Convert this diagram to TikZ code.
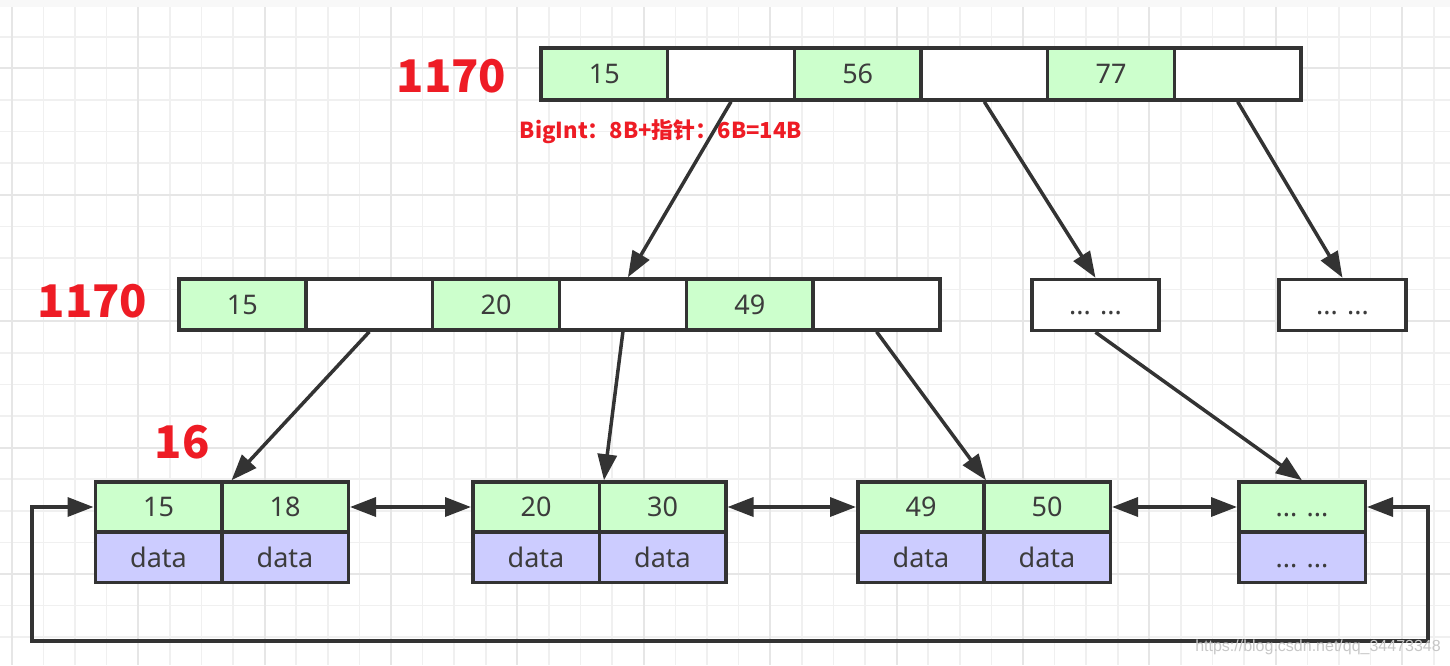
\documentclass[tikz,border=0pt]{standalone}
\usepackage{fontspec}
\setmainfont{Noto Sans}
\newfontfamily\cjk{Noto Sans CJK SC}
\newfontfamily\wmfont{Liberation Sans}
\usetikzlibrary{arrows.meta}
\definecolor{gfill}{HTML}{CCFFCC}
\definecolor{bfill}{HTML}{CCCCFF}
\definecolor{edge}{HTML}{333333}
\definecolor{txt}{HTML}{3C3C3C}
\definecolor{lbl}{HTML}{EE1C25}
\definecolor{gminor}{HTML}{F0F0F0}
\definecolor{gmajor}{HTML}{E6E6E6}
\definecolor{topstrip}{HTML}{F8F8F8}
\begin{document}
\begin{tikzpicture}[x=1pt,y=-1pt,
  cell/.style={draw=edge, line width=3.5pt, text=txt, font=\fontsize{27}{30}\selectfont,
    inner sep=0pt, text height=19.3pt, text depth=0pt, anchor=center},
  gcell/.style={cell, fill=gfill},
  wcell/.style={cell, fill=white},
  bcell/.style={cell, fill=bfill},
  tip/.tip={Triangle[length=26pt,width=19pt]},
  link/.style={draw=edge, line width=3.5pt, -tip},
  dlink/.style={draw=edge, line width=3.5pt, tip-tip},
  redlbl/.style={text=lbl, font=\cjk\bfseries\fontsize{45}{50}\selectfont, inner sep=0pt, anchor=base},
  gridminor/.style={draw=gminor, line width=1.6pt},
  gridmajor/.style={draw=gmajor, line width=2pt},
]
\useasboundingbox (0,0) rectangle (1450,665);
\fill[white] (0,0) rectangle (1450,665);
\fill[topstrip] (0,0) rectangle (1450,7);
% grid
\foreach \i in {0,...,45} \draw[gridminor] ({11.7+31.6*\i},7) -- ({11.7+31.6*\i},665);
\foreach \j in {0,...,19} \draw[gridminor] (0,{36.7+31.6*\j}) -- (1450,{36.7+31.6*\j});
\foreach \i in {0,4,...,44} \draw[gridmajor] ({11.7+31.6*\i},7) -- ({11.7+31.6*\i},665);
\foreach \j in {1,5,...,17} \draw[gridmajor] (0,{36.7+31.6*\j}) -- (1450,{36.7+31.6*\j});

% top row
\begin{scope}[every node/.append style={minimum width=126.7pt, minimum height=52pt}]
\node[gcell] (t1) at (604.3,74) {15};
\node[wcell] (t2) at (731,74) {};
\node[gcell] (t3) at (857.7,74) {56};
\node[wcell] (t4) at (984.3,74) {};
\node[gcell] (t5) at (1111,74) {77};
\node[wcell] (t6) at (1237.7,74) {};
\end{scope}

% middle row
\begin{scope}[every node/.append style={minimum width=126.8pt, minimum height=51pt}]
\node[gcell] (m1) at (242.4,304.5) {15};
\node[wcell] (m2) at (369.3,304.5) {};
\node[gcell] (m3) at (496.1,304.5) {20};
\node[wcell] (m4) at (622.9,304.5) {};
\node[gcell] (m5) at (749.8,304.5) {49};
\node[wcell] (m6) at (876.6,304.5) {};
\node[wcell] (ma) at (1095.5,305) {... ...};
\node[wcell] (mb) at (1342.5,305) {... ...};
\end{scope}

% leaves
\begin{scope}[every node/.append style={minimum width=126.5pt, minimum height=50pt}]
\node[gcell] (l1a) at (158.5,507) {15};
\node[gcell] (l1b) at (285,507) {18};
\node[gcell] (l2a) at (536,507) {20};
\node[gcell] (l2b) at (662.5,507) {30};
\node[gcell] (l3a) at (921,507) {49};
\node[gcell] (l3b) at (1047,507) {50};
\node[gcell] (l4a) at (1302,507) {... ...};
\node[bcell] (l1c) at (158.5,557.5) {data};
\node[bcell] (l1d) at (285,557.5) {data};
\node[bcell] (l2c) at (536,557.5) {data};
\node[bcell] (l2d) at (662.5,557.5) {data};
\node[bcell] (l3c) at (921,557.5) {data};
\node[bcell] (l3d) at (1047,557.5) {data};
\node[bcell] (l4b) at (1302,557.5) {... ...};
\end{scope}

% labels
\node[redlbl] (lab1) at (451.5,92) {1170};
\node[redlbl] (lab2) at (92.5,317) {1170};
\node[redlbl] (lab3) at (182,458) {16};
\node[text=lbl, font=\cjk\bfseries\fontsize{22}{24}\selectfont, inner sep=0pt, anchor=base] (big) at (661,138) {BigInt：8B+指针：6B=14B};

% tree links
\draw[link] (t2.south) -- ([xshift=5pt]m4.north);
\draw[link] (t4.south) -- (ma.north);
\draw[link] (t6.south) -- (mb.north);
\draw[link] (m2.south) -- ([xshift=8pt]l1a.north east);
\draw[link] (m4.south) -- ([xshift=3pt]l2a.north east);
\draw[link] (m6.south) -- (l3a.north east);
\draw[link] (ma.south) -- (l4a.north);

% sibling links
\draw[dlink] (l1b.east) -- (l2a.west);
\draw[dlink] (l2b.east) -- (l3a.west);
\draw[dlink] (l3b.east) -- (l4a.west);

% loop
\coordinate (loopL) at (32,641);
\coordinate (loopR) at (1428,641);
\draw[dlink] (l1a.west) -| (loopL) -- (loopR) |- (l4a.east);

% watermark
\node[text=black!22, font=\wmfont\fontsize{16}{18}\selectfont, inner sep=0pt, anchor=base] (wm) at (1318,651) {https://blog.csdn.net/qq\_34473348};
\end{tikzpicture}
\end{document}
